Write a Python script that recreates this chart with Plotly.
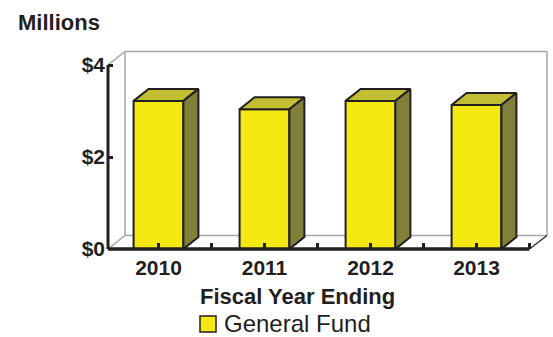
import plotly.graph_objects as go

# ---- data ----
years = ["2010", "2011", "2012", "2013"]
values = [3.22, 3.04, 3.22, 3.13]          # $ millions
ytick_vals = [0, 2, 4]
ytick_text = ["$0", "$2", "$4"]
series_name = "General Fund"

# ---- style ----
FRONT = "#f5e912"
TOP = "#c2c032"
SIDE = "#80803a"
INK = "#231f20"
WALL = "#a6a6a6"
FONT = "Liberation Sans, Arial, sans-serif"

W, H = 553, 337
ML, MR, MT, MB = 108, 2, 49, 88
PW, PH = W - ML - MR, H - MT - MB
PX_PER_X = 106.0
PX_PER_Y = 46.0
x0 = -50.5 / PX_PER_X
x1 = x0 + PW / PX_PER_X
y1 = PH / PX_PER_Y

bar_w = 0.47
bdx, bdy = 15 / PX_PER_X, 12 / PX_PER_Y      # bar depth
wdx, wdy = 17 / PX_PER_X, 13.5 / PX_PER_Y    # wall depth
ytop = max(ytick_vals)
x_end = len(years) - 0.5


def pxx(p):
    return (p - ML) / PW


def pxy(p):
    return (H - MB - p) / PH


xs = list(range(len(years)))
fig = go.Figure()

fig.add_trace(go.Bar(
    x=xs, y=values, width=bar_w, name=series_name,
    marker=dict(color=FRONT, line=dict(color=INK, width=2)),
    showlegend=False, hoverinfo="skip",
))

for c, v in zip(xs, values):
    l, r = c - bar_w / 2, c + bar_w / 2
    # top face
    fig.add_trace(go.Scatter(
        x=[l, r, r + bdx, l + bdx, l], y=[v, v, v + bdy, v + bdy, v],
        mode="lines", fill="toself", fillcolor=TOP,
        line=dict(color=INK, width=2), showlegend=False, hoverinfo="skip"))
    # side face
    fig.add_trace(go.Scatter(
        x=[r, r + bdx, r + bdx, r, r], y=[0, bdy, v + bdy, v, 0],
        mode="lines", fill="toself", fillcolor=SIDE,
        line=dict(color=INK, width=2), showlegend=False, hoverinfo="skip"))

shapes = []
# back wall (gray)
bx0 = x0 + wdx
bx1 = x0 + (547 - ML) / PX_PER_X
btop = ytop + wdy
for (ax, ay, bx, by) in [
    (x0, ytop, bx0, btop),
    (bx0, btop, bx1, btop),
    (bx1, btop, bx1, wdy),
    (bx0, wdy, bx1, wdy),
    (bx0, wdy, bx0, btop),
    (x0, 0, bx0, wdy),
]:
    shapes.append(dict(type="line", xref="x", yref="y", x0=ax, y0=ay, x1=bx, y1=by,
                       line=dict(color=WALL, width=1.5), layer="below"))
# right floor diagonal
shapes.append(dict(type="line", xref="x", yref="y", x0=x_end, y0=0, x1=bx1, y1=wdy,
                   line=dict(color=INK, width=1.2), layer="below"))
# front x axis line
shapes.append(dict(type="line", xref="x", yref="paper", x0=x0, y0=0, x1=x_end, y1=0,
                   line=dict(color=INK, width=3.5)))
# y axis line
shapes.append(dict(type="line", xref="paper", yref="y", x0=0, y0=0, x1=0, y1=ytop,
                   line=dict(color=INK, width=3)))
# legend swatch
shapes.append(dict(type="rect", xref="paper", yref="paper",
                   x0=pxx(200), x1=pxx(216), y0=pxy(332), y1=pxy(316),
                   fillcolor=FRONT, line=dict(color=INK, width=1.5)))

annotations = [
    dict(text="Millions", xref="paper", yref="paper", x=pxx(16), y=pxy(22),
         xanchor="left", yanchor="middle", showarrow=False,
         font=dict(family=FONT, size=22, color=INK, weight="bold")),
    dict(text="Fiscal Year Ending", xref="paper", yref="paper", x=pxx(297), y=pxy(296),
         xanchor="center", yanchor="middle", showarrow=False,
         font=dict(family=FONT, size=22, color=INK, weight="bold")),
    dict(text=series_name, xref="paper", yref="paper", x=pxx(222), y=pxy(323.5),
         xanchor="left", yanchor="middle", showarrow=False,
         font=dict(family=FONT, size=24, color=INK)),
]

fig.update_layout(
    width=W, height=H, margin=dict(l=ML, r=MR, t=MT, b=MB, pad=0),
    paper_bgcolor="white", plot_bgcolor="white",
    showlegend=False, shapes=shapes, annotations=annotations,
    xaxis=dict(range=[x0, x1], tickvals=xs, ticktext=years, showgrid=False,
               zeroline=False, showline=False, ticks="inside", ticklen=6,
               tickwidth=3, tickcolor=INK, ticklabelstandoff=4,
               minor=dict(tickvals=[i + 0.5 for i in xs], ticks="inside", ticklen=6,
                          tickwidth=3, tickcolor=INK, showgrid=False),
               tickfont=dict(family=FONT, size=21, color=INK, weight="bold"),
               fixedrange=True),
    yaxis=dict(range=[0, y1], tickvals=ytick_vals, ticktext=ytick_text, showgrid=False,
               zeroline=False, showline=False, ticks="inside", ticklen=5, tickwidth=3,
               tickcolor=INK, ticklabelstandoff=2,
               tickfont=dict(family=FONT, size=21, color=INK, weight="bold"),
               fixedrange=True),
)

fig.write_html("out.html", config={"displayModeBar": False})
